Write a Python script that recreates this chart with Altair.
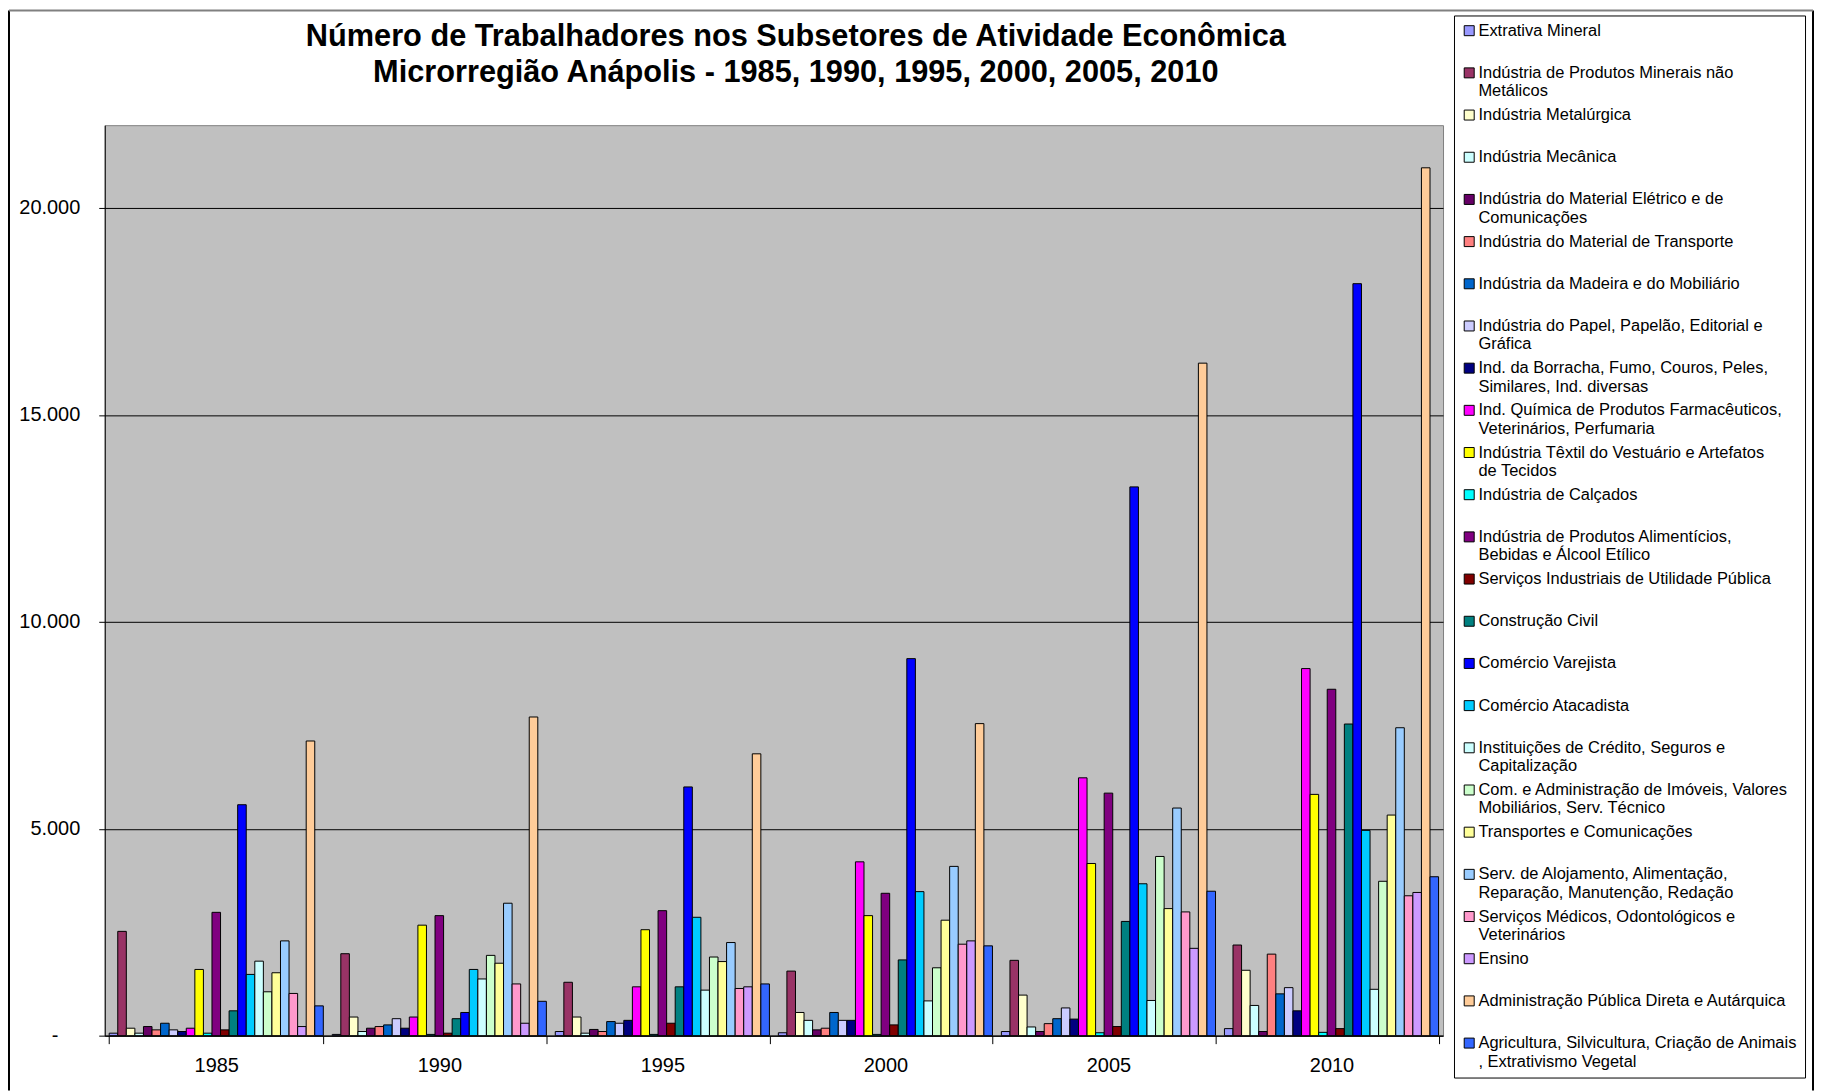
import altair as alt
import pandas as pd

years = ["1985", "1990", "1995", "2000", "2005", "2010"]

series = [
    "Extrativa Mineral",
    "Indústria de Produtos Minerais não\nMetálicos",
    "Indústria Metalúrgica",
    "Indústria Mecânica",
    "Indústria do Material Elétrico e de\nComunicações",
    "Indústria do Material de Transporte",
    "Indústria da Madeira e do Mobiliário",
    "Indústria do Papel, Papelão, Editorial e\nGráfica",
    "Ind. da Borracha, Fumo, Couros, Peles,\nSimilares, Ind. diversas",
    "Ind. Química de Produtos Farmacêuticos,\nVeterinários, Perfumaria",
    "Indústria Têxtil do Vestuário e Artefatos\nde Tecidos",
    "Indústria de Calçados",
    "Indústria de Produtos Alimentícios,\nBebidas e Álcool Etílico",
    "Serviços Industriais de Utilidade Pública",
    "Construção Civil",
    "Comércio Varejista",
    "Comércio Atacadista",
    "Instituições de Crédito, Seguros e\nCapitalização",
    "Com. e Administração de Imóveis, Valores\nMobiliários, Serv. Técnico",
    "Transportes e Comunicações",
    "Serv. de Alojamento, Alimentação,\nReparação, Manutenção, Redação",
    "Serviços Médicos, Odontológicos e\nVeterinários",
    "Ensino",
    "Administração Pública Direta e Autárquica",
    "Agricultura, Silvicultura, Criação de Animais\n, Extrativismo Vegetal",
]

colors = [
    "#9999FF", "#993366", "#FFFFCC", "#CCFFFF", "#660066", "#FF8080",
    "#0066CC", "#CCCCFF", "#000080", "#FF00FF", "#FFFF00", "#00FFFF",
    "#800080", "#800000", "#008080", "#0000FF", "#00CCFF", "#CCFFFF",
    "#CCFFCC", "#FFFF99", "#99CCFF", "#FF99CC", "#CC99FF", "#FFCC99",
    "#3366FF",
]

v1985 = [60, 2520, 180, 60, 220, 140, 300, 140, 100, 180, 1600, 60, 2980,
         140, 600, 5580, 1480, 1800, 1060, 1520, 2290, 1020, 220, 7120, 720]
v1990 = [30, 1980, 450, 100, 180, 220, 260, 410, 180, 450, 2670, 30, 2900,
         60, 410, 560, 1600, 1370, 1940, 1750, 3200, 1250, 300, 7700, 830]
v1995 = [100, 1290, 450, 60, 150, 100, 340, 300, 370, 1180, 2560, 30, 3020,
         300, 1180, 6010, 2860, 1100, 1900, 1790, 2250, 1140, 1180, 6810, 1250]
v2000 = [70, 1560, 560, 370, 140, 180, 560, 370, 370, 4200, 2900, 30, 3440,
         260, 1830, 9110, 3480, 840, 1640, 2790, 4090, 2210, 2290, 7540, 2170]
v2005 = [100, 1820, 980, 210, 100, 290, 410, 670, 400, 6230, 4160, 70, 5860,
         220, 2760, 13260, 3670, 850, 4330, 3070, 5500, 2990, 2110, 16250, 3490]
v2010 = [170, 2190, 1580, 730, 100, 1970, 1010, 1160, 600, 8870, 5830, 80, 8370,
         170, 7530, 18170, 4960, 1120, 3730, 5330, 7440, 3380, 3460, 20970, 3840]

title_lines = [
    "Número de Trabalhadores nos Subsetores de Atividade Econômica",
    "Microrregião Anápolis - 1985, 1990, 1995, 2000, 2005, 2010",
]

rows = []
for yr, vals in zip(years, [v1985, v1990, v1995, v2000, v2005, v2010]):
    for s, v in zip(series, vals):
        rows.append({"ano": yr, "setor": s, "valor": v})
df = pd.DataFrame(rows)

FONT = "Liberation Sans, Arial, sans-serif"

legend = alt.Legend(
    title=None,
    orient="none",
    legendX=1353,
    legendY=-110,
    padding=7,
    strokeColor="black",
    fillColor="white",
    symbolType="square",
    symbolSize=100,
    symbolStrokeColor="black",
    symbolStrokeWidth=1,
    labelFont=FONT,
    labelFontSize=16.5,
    labelColor="black",
    labelLimit=500,
    labelOffset=1,
    rowPadding=6.3,
    labelExpr="indexof(datum.label, '\\n') >= 0 ? split(datum.label, '\\n') : [datum.label, '']",
)

bars = (
    alt.Chart(df)
    .mark_bar(stroke="black", strokeWidth=1)
    .encode(
        x=alt.X(
            "ano:N",
            sort=years,
            title=None,
            scale=alt.Scale(paddingInner=0.04, paddingOuter=0.02),
            axis=alt.Axis(
                labelAngle=0,
                labelFont=FONT,
                labelFontSize=20,
                labelColor="black",
                labelPadding=12,
                domainColor="black",
                tickColor="black",
                tickSize=8,
                tickBand="extent",
                grid=False,
            ),
        ),
        xOffset=alt.XOffset(
            "setor:N", sort=series, scale=alt.Scale(paddingInner=0, paddingOuter=0)
        ),
        y=alt.Y(
            "valor:Q",
            title=None,
            scale=alt.Scale(domain=[0, 22000], nice=False),
            axis=alt.Axis(
                values=[0, 5000, 10000, 15000, 20000],
                labelExpr="datum.value == 0 ? '-' : replace(format(datum.value, ','), ',', '.')",
                labelFont=FONT,
                labelFontSize=20,
                labelColor="black",
                labelPadding={"condition": {"test": "datum.value === 0", "value": 41}, "value": 19},
                domainColor="black",
                tickColor="black",
                tickSize=6,
                gridColor="black",
                gridWidth=1,
            ),
        ),
        color=alt.Color(
            "setor:N",
            sort=series,
            scale=alt.Scale(domain=series, range=colors),
            legend=legend,
        ),
    )
)

frame_data = alt.Data(values=[{"f": 1}])
left_edge = alt.Chart(frame_data).mark_rule(color="black", strokeWidth=2).encode(
    x=alt.value(-96), y=alt.value(-115), y2=alt.value(968)
)
right_edge = alt.Chart(frame_data).mark_rule(color="black", strokeWidth=2).encode(
    x=alt.value(1713), y=alt.value(-115), y2=alt.value(968)
)
top_edge = alt.Chart(frame_data).mark_rule(color="#808080", strokeWidth=2).encode(
    x=alt.value(-96), x2=alt.value(1713), y=alt.value(-115)
)

chart = (
    alt.layer(bars, left_edge, right_edge, top_edge)
    .properties(
        width=1342,
        height=913,
        padding={"left": 0, "top": 0, "right": 0, "bottom": 0},
        title=alt.TitleParams(
            text=title_lines,
            font=FONT,
            fontSize=30.8,
            fontWeight="bold",
            color="black",
            anchor="middle",
            frame="group",
            dx=22,
            lineHeight=37,
            offset=-80,
        ),
    )
    .configure(background="white")
    .configure_view(fill="#C0C0C0", stroke="#808080")
)

chart.save("out.html", embed_options={"renderer": "svg", "actions": False})
